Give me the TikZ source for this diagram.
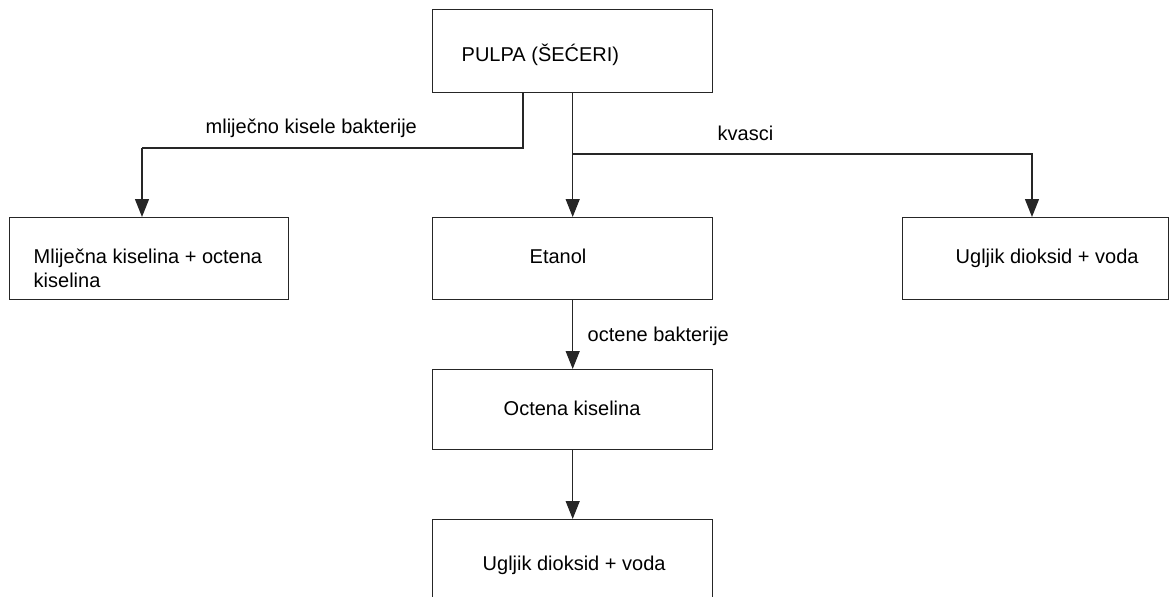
\documentclass[tikz,border=0pt]{standalone}
\usepackage{fontspec}
\setmainfont{Liberation Sans}
\usetikzlibrary{arrows.meta}
\begin{document}
\begin{tikzpicture}[x=1pt,y=-1pt,
  line width=1.4pt,
  linecol/.style={draw=black!85},
  boxnode/.style={linecol, rectangle, inner sep=0pt, anchor=north west},
  txt/.style={anchor=base west, inner sep=0pt, font=\fontsize{20}{24}\selectfont, text=black},
  arr/.style={linecol, -{Triangle[width=14pt,length=18pt]}}]
\useasboundingbox (0,0) rectangle (1171,597);
\begin{scope}
\clip (0,0) rectangle (1171,597);
\node[boxnode, minimum width=280pt, minimum height=83pt] (top) at (432,9) {};
\node[boxnode, minimum width=279pt, minimum height=82pt] (left) at (9,217) {};
\node[boxnode, minimum width=280pt, minimum height=82pt] (etanol) at (432,217) {};
\node[boxnode, minimum width=266pt, minimum height=82pt] (right) at (902,217) {};
\node[boxnode, minimum width=280pt, minimum height=80pt] (octena) at (432,369) {};
\node[boxnode, minimum width=280pt, minimum height=100pt] (bottom) at (432,519) {};

\coordinate (lj1) at (523,148);
\coordinate (lj2) at (142,148);
\coordinate (rj1) at (572,154);
\coordinate (rj2) at (1032,154);

\draw[linecol] (top.south -| lj1) -- (lj1) -- (lj2);
\draw[arr] (lj2) -- (left.north -| lj2);
\draw[arr] (top.south -| etanol.north) -- (etanol.north);
\draw[arr] (rj1) -- (rj2) -- (right.north -| rj2);
\draw[arr] (etanol.south) -- (octena.north);
\draw[arr] (octena.south) -- (bottom.north);
\end{scope}

\node[txt] (t1) at (461,61) {PULPA (ŠEĆERI)};
\node[txt] (t2) at (33,263) {Mliječna kiselina + octena};
\node[txt] (t3) at (33,287) {kiselina};
\node[txt] (t4) at (529,263) {Etanol};
\node[txt] (t5) at (955,263) {Ugljik dioksid + voda};
\node[txt] (t6) at (503,415) {Octena kiselina};
\node[txt] (t7) at (482,570) {Ugljik dioksid + voda};
\node[txt] (l1) at (205,133) {mliječno kisele bakterije};
\node[txt] (l2) at (717,140) {kvasci};
\node[txt] (l3) at (587,341) {octene bakterije};
\end{tikzpicture}
\end{document}
